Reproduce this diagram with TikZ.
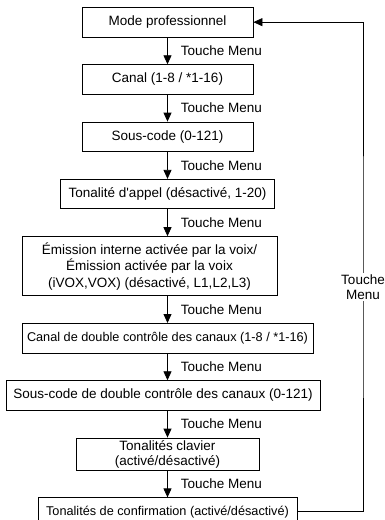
\documentclass[tikz,border=0pt]{standalone}
\usepackage{fontspec}
\setmainfont{Liberation Sans}
\usetikzlibrary{arrows.meta,positioning}
\tikzset{
  menu/.style={>={Triangle[width=8pt,length=9pt]}, x=1pt, y=1pt, node distance=27pt and 0pt,
               every node/.style={font=\fontsize{13.5}{15}\selectfont}},
  etape/.style={draw, rectangle, align=center, inner xsep=3pt, inner ysep=2pt, minimum height=29.5pt, line width=0.8pt},
  serre/.style={font=\fontsize{12.7}{15}\selectfont},
  fleche/.style={->, line width=0.8pt},
  tm/.style={anchor=west, xshift=11pt, inner sep=2pt},
  retour/.style={fill=white, align=center, inner sep=2pt}
}

\begin{document}
\begin{tikzpicture}[menu]
\useasboundingbox (0,0) rectangle (384,-520);
\node[etape, minimum width=171pt, anchor=north] (mode) at (167.5,-7) {Mode professionnel};
\node[etape, minimum width=171pt, below=of mode] (canal) {Canal (1-8 / *1-16)};
\node[etape, minimum width=171pt, below=of canal] (sous) {Sous-code (0-121)};
\node[etape, minimum width=214pt, below=of sous] (appel) {Tonalité d\textquotesingle appel (désactivé, 1-20)};
\node[etape, minimum width=255pt, minimum height=59pt, below=of appel, xshift=-18pt, font=\fontsize{13.5}{16.5}\selectfont] (vox)
  {Émission interne activée par la voix/\\Émission activée par la voix\\(iVOX,VOX) (désactivé, L1,L2,L3)};
\node[etape, serre, minimum width=291pt, below=of vox, xshift=18pt] (dcanal) {Canal de double contrôle des canaux (1-8 / *1-16)};
\node[etape, minimum width=314pt, below=of dcanal, xshift=-4.5pt] (dsous) {Sous-code de double contrôle des canaux (0-121)};
\node[etape, minimum width=183pt, minimum height=32pt, below=of dsous, xshift=4.5pt] (clavier) {Tonalités clavier\\(activé/désactivé)};
\node[etape, serre, minimum width=259pt, minimum height=28pt, below=of clavier] (confirm) {Tonalités de confirmation (activé/désactivé)};

\draw[fleche] (mode.south) -- node[tm] {Touche Menu} (canal.north);
\draw[fleche] (canal.south) -- node[tm] {Touche Menu} (sous.north);
\draw[fleche] (sous.south) -- node[tm] {Touche Menu} (appel.north);
\draw[fleche] (appel.south) -- node[tm] {Touche Menu} (vox.north -| mode);
\draw[fleche] (vox.south -| mode) -- node[tm] {Touche Menu} (dcanal.north);
\draw[fleche] (dcanal.south) -- node[tm] {Touche Menu} (dsous.north -| mode);
\draw[fleche] (dsous.south -| mode) -- node[tm] {Touche Menu} (clavier.north);
\draw[fleche] (clavier.south) -- node[tm] {Touche Menu} (confirm.north);

% retour vers le mode professionnel
\coordinate (boucle) at (363,-287);
\draw[fleche] (confirm.east) -| (boucle) |- (mode.east);
\node[retour] (tmr) at (boucle) {Touche\\Menu};
\end{tikzpicture}
\end{document}
